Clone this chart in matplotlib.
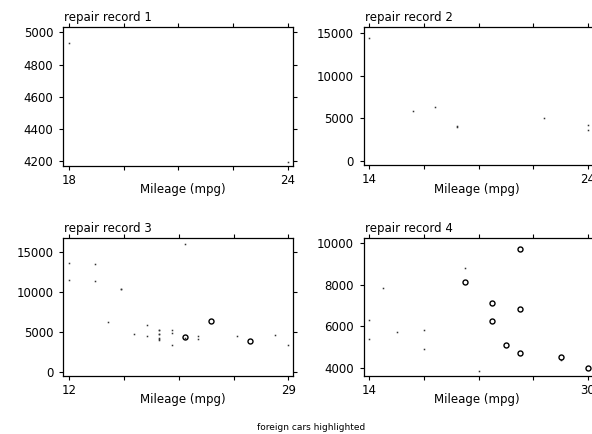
import numpy as np
import matplotlib
matplotlib.use("Agg")
import matplotlib.pyplot as plt

plt.rcParams['font.family'] = ['DejaVu Sans']

# price vs mileage, split by repair record; foreign cars drawn as circles
rep1_dom_mpg = [18, 24]
rep1_dom_price = [4934, 4195]
rep1_for_mpg = []
rep1_for_price = []

rep2_dom_mpg = [14, 22, 24, 18, 16, 17, 18, 24]
rep2_dom_price = [14500, 5104, 3667, 4010, 5886, 6342, 4060, 4172]
rep2_for_mpg = []
rep2_for_price = []

rep3_dom_mpg = [22, 17, 20, 18, 20, 16, 19, 14, 21, 29, 22, 19, 21, 12, 12, 14,
                15, 18, 20, 19, 19, 19, 16, 28, 25, 19, 19]
rep3_dom_price = [4099, 4749, 4816, 5788, 5189, 10372, 4082, 11385, 15906, 3299,
                  4504, 3955, 4187, 11497, 13594, 13466, 6165, 4516, 3291, 5172,
                  4733, 4181, 10371, 4647, 4482, 5222, 4723]
rep3_for_mpg = [23, 21, 26]
rep3_for_price = [6295, 4296, 3895]

rep4_dom_mpg = [15, 16, 28, 22, 14, 14, 21, 18, 18]
rep4_dom_price = [7827, 5705, 4389, 3829, 5379, 6303, 8814, 4890, 5798]
rep4_for_mpg = [25, 23, 24, 21, 28, 30, 23, 25, 25]
rep4_for_price = [9735, 6229, 5079, 8129, 4499, 3995, 7140, 4697, 6850]

panel_titles = ["repair record 1", "repair record 2", "repair record 3", "repair record 4"]
y_ticks = [[4200, 4400, 4600, 4800, 5000],
           [0, 5000, 10000, 15000],
           [0, 5000, 10000, 15000],
           [4000, 6000, 8000, 10000]]
x_ends = [(18, 24), (14, 24), (12, 29), (14, 30)]

panels = [
    (rep1_dom_mpg, rep1_dom_price, rep1_for_mpg, rep1_for_price),
    (rep2_dom_mpg, rep2_dom_price, rep2_for_mpg, rep2_for_price),
    (rep3_dom_mpg, rep3_dom_price, rep3_for_mpg, rep3_for_price),
    (rep4_dom_mpg, rep4_dom_price, rep4_for_mpg, rep4_for_price),
]

W, H = 592, 434
# frame boxes in pixels: left, right, top, bottom
boxes = [(63, 293, 26.7, 166), (363.7, 593.5, 26.7, 165),
         (63, 293, 237.7, 375.7), (363.7, 593.5, 237.7, 376)]
xlims = [(17.84, 24.14), (13.74, 24.25), (11.51, 29.37), (13.59, 30.4)]
ylims = [(4167, 5036), (-470, 15776), (-500, 16750), (3600, 10270)]
label_x = [183, 477, 183, 477]

fig = plt.figure(figsize=(W / 100, H / 100), dpi=100)

for i, (dm, dp, fm, fp) in enumerate(panels):
    l, r, t, b = boxes[i]
    ax = fig.add_axes([l / W, 1 - b / H, (r - l) / W, (b - t) / H])
    ax.plot(dm, dp, 's', ms=1.1, mew=0, color='#333333')
    if fm:
        ax.plot(fm, fp, 'o', ms=3.6, mfc='none', mec='black', mew=1.0)
    ax.set_xlim(*xlims[i])
    ax.set_ylim(*ylims[i])

    x0, x1 = x_ends[i]
    xt = np.linspace(x0, x1, 5)
    ax.set_xticks(xt)
    ax.set_xticklabels([str(x0), "", "", "", str(x1)])
    ax.set_yticks(y_ticks[i])
    ax.set_yticklabels([str(v) for v in y_ticks[i]])
    ax.tick_params(axis='both', direction='out', length=3, width=0.8,
                   labelsize=8.5, pad=3, colors='black',
                   top=True, right=True, labeltop=False, labelright=False)
    ax.tick_params(axis='y', pad=4)
    for s in ax.spines.values():
        s.set_linewidth(0.9)

    ax.set_xlabel("Mileage (mpg)", fontsize=8.5)
    ax.xaxis.set_label_coords((label_x[i] - l) / (r - l), -24 / (b - t))
    ax.xaxis.label.set_verticalalignment('center')
    ax.annotate(panel_titles[i], xy=(0, 1), xycoords='axes fraction',
                xytext=(1.5, 6), textcoords='offset pixels',
                ha='left', va='baseline', fontsize=8.5)

fig.text(311 / W, 1 - 427 / H, "foreign cars highlighted", ha='center',
         va='center', fontsize=6.5)

fig.savefig("out.png", dpi=100)
